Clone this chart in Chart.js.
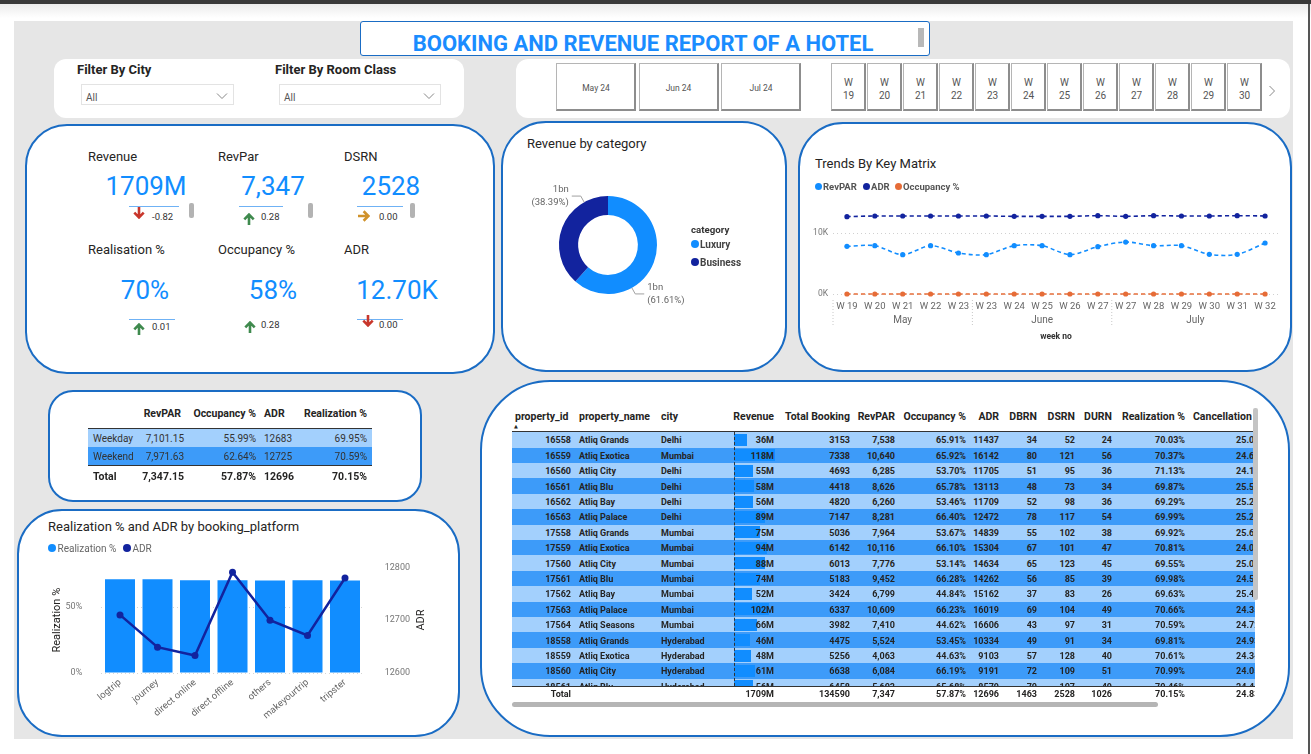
<!DOCTYPE html>
<html>
<head>
<meta charset="utf-8">
<title>Booking and Revenue Report of a Hotel</title>
<script src="https://cdn.jsdelivr.net/npm/chart.js@4.4.1/dist/chart.umd.min.js"></script>
<style>
* { box-sizing: border-box; }
body { margin: 0; width: 1311px; height: 754px; overflow: hidden; position: relative; background: #fff; font-family: Roboto, "DejaVu Sans", sans-serif; color: #252423; }
#topbar { position: absolute; left: 0; top: 0; width: 1311px; height: 4px; background: #3a3a3a; }
#fade { position: absolute; left: 0; top: 4px; width: 1311px; height: 14px; background: linear-gradient(#ececec, #fff); }
#page { position: absolute; left: 14px; top: 21px; width: 1279px; height: 718px; background: #e6e6e6; }
#edge { position: absolute; left: 1308px; top: 4px; width: 2px; height: 750px; background: #555; }
.card { position: absolute; background: #fff; border: 2.5px solid #1a6cc4; }
.panel { position: absolute; background: #fff; border-radius: 12px; }
.t { position: absolute; white-space: nowrap; transform: translateY(-50%); }
.t.r { transform: translate(-100%, -50%); }
.t.c { transform: translate(-50%, -50%); }
.r0 { position: absolute; }
canvas { position: absolute; }
.btn { position: absolute; background: #fff; border: 1px solid #b5b5b5; border-right: 2px solid #8d8d8d; border-bottom: 2px solid #8d8d8d; color: #555; }
.dd { position: absolute; background: #fff; border: 1px solid #e3e3e3; }
</style>
</head>
<body>
<div id="topbar"></div>
<div id="fade"></div>
<div id="page"></div>
<div id="edge"></div>

<!-- judul -->
<div class="card" style="left:360px;top:21px;width:570px;height:35px;border-width:1px;border-radius:3px;"></div>
<div class="t c" style="left:643px;top:43px;font-size:22px;font-weight:700;color:#1a8cff;">BOOKING AND REVENUE REPORT OF A HOTEL</div>
<div class="r0" style="left:918px;top:28px;width:6px;height:19px;background:#b8b8b8;"></div>

<!-- slicer -->
<div class="panel" style="left:54px;top:59px;width:410px;height:59px;"></div>
<div class="panel" style="left:516px;top:59px;width:774px;height:59px;"></div>

<!-- kartu -->
<div class="card" style="left:25px;top:124px;width:470px;height:250px;border-radius:42px;"></div>
<div class="card" style="left:501px;top:121px;width:286px;height:251px;border-radius:45px;"></div>
<div class="card" style="left:798px;top:122px;width:494px;height:250px;border-radius:45px;"></div>
<div class="card" style="left:48px;top:390px;width:374px;height:112px;border-radius:25px;"></div>
<div class="card" style="left:17px;top:509px;width:443px;height:228px;border-radius:45px;"></div>
<div class="card" style="left:480px;top:380px;width:810px;height:357px;border-radius:70px;"></div>

<canvas id="donutChart" width="200" height="150" style="left:508px;top:170px;"></canvas>
<canvas id="trendChart" width="488" height="150" style="left:800px;top:195px;"></canvas>
<canvas id="platformChart" width="430" height="194" style="left:25px;top:541px;"></canvas>

<script>
// ==========================================
// DATA
// ==========================================
const cityOptions = ["All"];
const roomClassOptions = ["All"];
const monthSlicer = ["May 24", "Jun 24", "Jul 24"];
const weekSlicer = ["19", "20", "21", "22", "23", "24", "25", "26", "27", "28", "29", "30"];

const kpiNames = ["Revenue", "RevPar", "DSRN", "Realisation %", "Occupancy %", "ADR"];
const kpiValues = ["1709M", "7,347", "2528", "70%", "58%", "12.70K"];
const kpiDeltas = ["-0.82", "0.28", "0.00", "0.01", "0.28", "0.00"];
const kpiTrend = ["down", "up", "flat", "up", "up", "down"];

const categoryNames = ["Luxury", "Business"];
const categoryRevenue = [1052.9, 656.1]; // juta

const trendWeeks = ["W 19", "W 20", "W 21", "W 22", "W 23", "W 23", "W 24", "W 25", "W 26", "W 27", "W 27", "W 28", "W 29", "W 30", "W 31", "W 32"];
const trendMonths = ["May", "June", "July"];
const trendMonthSize = [5, 5, 6];
const trendRevpar = [7810, 7920, 6450, 7920, 6720, 6450, 7920, 7920, 6450, 7760, 8520, 7920, 7920, 6500, 6500, 8360];
const trendAdr = [12680, 12790, 12790, 12790, 12790, 12790, 12730, 12730, 12730, 12840, 12730, 12840, 12790, 12790, 12840, 12790];
const trendOccupancy = [0.57, 0.58, 0.56, 0.59, 0.57, 0.56, 0.58, 0.59, 0.56, 0.58, 0.60, 0.58, 0.58, 0.56, 0.56, 0.60];

const platforms = ["logtrip", "journey", "direct online", "direct offline", "others", "makeyourtrip", "tripster"];
const platformRealization = [70.97, 70.95, 70.2, 70.2, 70.15, 70.2, 70.1];
const platformAdr = [12710, 12649, 12633, 12791, 12700, 12671, 12780];

const dayTypes = ["Weekday", "Weekend"];
const dayRevpar = [7101.15, 7971.63];
const dayOccupancy = [55.99, 62.64];
const dayAdr = [12683, 12725];
const dayRealization = [69.95, 70.59];
const dayTotal = [7347.15, 57.87, 12696, 70.15];

const propertyIds = [16558, 16559, 16560, 16561, 16562, 16563, 17558, 17559, 17560, 17561, 17562, 17563, 17564, 18558, 18559, 18560, 18561];
const propertyNames = ["Atliq Grands", "Atliq Exotica", "Atliq City", "Atliq Blu", "Atliq Bay", "Atliq Palace", "Atliq Grands", "Atliq Exotica", "Atliq City", "Atliq Blu", "Atliq Bay", "Atliq Palace", "Atliq Seasons", "Atliq Grands", "Atliq Exotica", "Atliq City", "Atliq Blu"];
const propertyCities = ["Delhi", "Mumbai", "Delhi", "Delhi", "Delhi", "Delhi", "Mumbai", "Mumbai", "Mumbai", "Mumbai", "Mumbai", "Mumbai", "Mumbai", "Hyderabad", "Hyderabad", "Hyderabad", "Hyderabad"];
const propertyRevenue = [36, 118, 55, 58, 56, 89, 75, 94, 88, 74, 52, 102, 66, 46, 48, 61, 56];
const propertyBookings = [3153, 7338, 4693, 4418, 4820, 7147, 5036, 6142, 6013, 5183, 3424, 6337, 3982, 4475, 5256, 6638, 6458];
const propertyRevpar = [7538, 10640, 6285, 8626, 6260, 8281, 7964, 10116, 7776, 9452, 6799, 10609, 7410, 5524, 4063, 6084, 5603];
const propertyOccupancy = [65.91, 65.92, 53.70, 65.78, 53.46, 66.40, 53.67, 66.10, 53.14, 66.28, 44.84, 66.23, 44.62, 53.45, 44.63, 66.19, 65.68];
const propertyAdr = [11437, 16142, 11705, 13113, 11709, 12472, 14839, 15304, 14634, 14262, 15162, 16019, 16606, 10334, 9103, 9191, 8579];
const propertyDbrn = [34, 80, 51, 48, 52, 78, 55, 67, 65, 56, 37, 69, 43, 49, 57, 72, 70];
const propertyDsrn = [52, 121, 95, 73, 98, 117, 102, 101, 123, 85, 83, 104, 97, 91, 128, 109, 107];
const propertyDurn = [24, 56, 36, 34, 36, 54, 38, 47, 45, 39, 26, 49, 31, 34, 40, 51, 49];
const propertyRealization = [70.03, 70.37, 71.13, 69.87, 69.29, 69.99, 69.92, 70.81, 69.55, 69.98, 69.63, 70.66, 70.59, 69.81, 70.61, 70.99, 70.46];
const propertyCancellation = [25.02, 24.61, 24.13, 25.54, 25.21, 25.23, 25.62, 24.04, 25.05, 24.52, 25.41, 24.35, 24.72, 24.93, 24.34, 24.05, 24.44];
const propertyTotals = ["Total", "", "", "1709M", "134590", "7,347", "57.87%", "12696", "1463", "2528", "1026", "70.15%", "24.83%"];

// ==========================================
// HELPER DOM
// ==========================================
function txt(s, x, y, align, css) {
    const d = document.createElement('div');
    d.className = 't' + (align === 'right' ? ' r' : align === 'center' ? ' c' : '');
    d.style.cssText = `left:${x}px;top:${y}px;` + (css || '');
    d.textContent = s;
    document.body.appendChild(d);
    return d;
}
function rect(x, y, w, h, css, parent) {
    const d = document.createElement('div');
    d.className = 'r0';
    d.style.cssText = `left:${x}px;top:${y}px;width:${w}px;height:${h}px;` + (css || '');
    (parent || document.body).appendChild(d);
    return d;
}
function arrow(x, y, dir, color) {
    const rot = { up: 0, flat: 90, down: 180 }[dir];
    const d = rect(x - 6, y - 6, 12, 12, `transform:rotate(${rot}deg)`);
    d.innerHTML = `<svg width="12" height="12" viewBox="0 0 12 12"><path d="M1.3 6.4 L6 1.6 L10.7 6.4 M6 2 L6 12" stroke="${color}" stroke-width="2.6" fill="none"/></svg>`;
}
function chevron(x, y, horizontal) {
    const d = rect(x - 6, y - 6, 12, 12, '');
    d.innerHTML = horizontal
        ? `<svg width="12" height="12"><path d="M3.5 1 L8.5 6 L3.5 11" stroke="#888" stroke-width="1" fill="none"/></svg>`
        : `<svg width="12" height="12"><path d="M1 3.5 L6 8.5 L11 3.5" stroke="#888" stroke-width="1" fill="none"/></svg>`;
}

// ==========================================
// SLICER
// ==========================================
txt("Filter By City", 77, 69, 'left', 'font-size:13px;font-weight:700;color:#252423;');
txt("Filter By Room Class", 275, 69, 'left', 'font-size:13px;font-weight:700;color:#252423;');
[[81, 153, cityOptions[0]], [279, 162, roomClassOptions[0]]].forEach(([x, w, s]) => {
    const d = rect(x, 84, w, 21, '');
    d.className = 'dd';
    txt(s, x + 5, 97, 'left', 'font-size:10px;color:#555;');
    chevron(x + w - 12, 93, false);
});
monthSlicer.forEach((m, i) => {
    const d = rect(556 + i * 82.5, 63, 80, 48, '');
    d.className = 'btn';
    txt(m, 596 + i * 82.5, 88, 'center', 'font-size:8.5px;color:#555;');
});
weekSlicer.forEach((w, i) => {
    const x = 831 + i * 36;
    const d = rect(x, 63, 35, 48, '');
    d.className = 'btn';
    txt("W", x + 17.5, 82, 'center', 'font-size:10px;color:#555;');
    txt(w, x + 17.5, 95, 'center', 'font-size:10px;color:#555;');
});
chevron(1272, 88, true);

// ==========================================
// KARTU KPI
// ==========================================
const kpiPos = [
    { lx: 88, ly: 156, vx: 146, vy: 186, line: [129, 179, 206], ax: 139, tx: 152, iy: 216, bar: 189 },
    { lx: 218, ly: 156, vx: 273, vy: 186, line: [239, 283, 206], ax: 249, tx: 261, iy: 216, bar: 308 },
    { lx: 344, ly: 156, vx: 391, vy: 186, line: [357, 403, 206], ax: 367, tx: 379, iy: 216, bar: 410 },
    { lx: 88, ly: 249, vx: 145, vy: 290, line: [129, 175, 319], ax: 139, tx: 152, iy: 326 },
    { lx: 218, ly: 249, vx: 273, vy: 290, line: null, ax: 250, tx: 261, iy: 324 },
    { lx: 344, ly: 249, vx: 397, vy: 290, line: [357, 403, 319], ax: 368, tx: 379, iy: 324 }
];
const trendColor = { up: '#3f8a4e', down: '#c8362b', flat: '#d0922b' };
kpiNames.forEach((name, i) => {
    const p = kpiPos[i];
    txt(name, p.lx, p.ly, 'left', 'font-size:13px;color:#252423;');
    txt(kpiValues[i], p.vx, p.vy, 'center', 'font-size:26px;color:#118dff;');
    if (p.line) rect(p.line[0], p.line[2], p.line[1] - p.line[0], 1, 'background:#6fb2f5;');
    arrow(p.ax, p.iy, kpiTrend[i], trendColor[kpiTrend[i]]);
    txt(kpiDeltas[i], p.tx, p.iy, 'left', 'font-size:9.5px;color:#333;');
    if (p.bar) rect(p.bar, 203, 4.5, 15, 'background:#b3b3b3;border-radius:2px;');
});

// ==========================================
// TEKS KARTU GRAFIK
// ==========================================
txt("Revenue by category", 527, 143, 'left', 'font-size:13px;color:#252423;');
txt("category", 691, 229, 'left', 'font-size:9.7px;font-weight:700;color:#333;');
categoryNames.forEach((c, i) => {
    const y = 244 + i * 18;
    rect(691, y - 4, 8, 8, `border-radius:50%;background:${['#118dff', '#12239e'][i]};`);
    txt(c, 700, y, 'left', 'font-size:10px;font-weight:700;color:#444;');
});

txt("Trends By Key Matrix", 815, 163, 'left', 'font-size:13px;color:#252423;');
[["RevPAR", '#118dff', 818], ["ADR", '#12239e', 866], ["Occupancy %", '#e66c37', 898]].forEach(([s, c, x]) => {
    rect(x - 3.5, 182.5, 7, 7, `border-radius:50%;background:${c};`);
    txt(s, x + 5, 186, 'left', 'font-size:9.5px;font-weight:700;color:#555;');
});

txt("Realization % and ADR by booking_platform", 48, 526, 'left', 'font-size:13px;color:#252423;');
[["Realization %", '#118dff', 52], ["ADR", '#12239e', 127]].forEach(([s, c, x]) => {
    rect(x - 4, 544, 8, 8, `border-radius:50%;background:${c};`);
    txt(s, x + 5.5, 548, 'left', 'font-size:10px;color:#666;');
});
// judul sumbu kanan dibaca dari bawah ke atas
txt("ADR", 420, 620, 'center', 'font-size:11px;color:#252423;transform:translate(-50%,-50%) rotate(-90deg);');

// ==========================================
// TABEL WEEKDAY / WEEKEND
// ==========================================
const fmt2 = n => n.toLocaleString('en-US', { minimumFractionDigits: 2, maximumFractionDigits: 2 });
const hdr = 'font-size:10.5px;font-weight:700;color:#252423;';
txt("RevPAR", 181, 413, 'right', hdr);
txt("Occupancy %", 256, 413, 'right', hdr);
txt("ADR", 264, 413, 'left', hdr);
txt("Realization %", 367, 413, 'right', hdr);
rect(88, 427.5, 284, 1.5, 'background:#333;');
dayTypes.forEach((d, i) => {
    const top = 429 + i * 18;
    rect(88, top, 284, 18, `background:${i === 0 ? '#a3d0fd' : '#3d9bf9'};`);
    const y = top + 9;
    const st = 'font-size:10px;color:#333;';
    txt(d, 93, y, 'left', st);
    txt(fmt2(dayRevpar[i]), 184, y, 'right', st);
    txt(dayOccupancy[i].toFixed(2) + '%', 256, y, 'right', st);
    txt(String(dayAdr[i]), 264, y, 'left', st);
    txt(dayRealization[i].toFixed(2) + '%', 367, y, 'right', st);
});
rect(88, 464.5, 284, 1.5, 'background:#333;');
txt("Total", 93, 476, 'left', hdr);
txt(fmt2(dayTotal[0]), 184, 476, 'right', hdr);
txt(dayTotal[1].toFixed(2) + '%', 256, 476, 'right', hdr);
txt(String(dayTotal[2]), 264, 476, 'left', hdr);
txt(dayTotal[3].toFixed(2) + '%', 367, 476, 'right', hdr);

// ==========================================
// TABEL PROPERTI
// ==========================================
const tableHeads = ["property_id", "property_name", "city", "Revenue", "Total Booking", "RevPAR", "Occupancy %", "ADR", "DBRN", "DSRN", "DURN", "Realization %", "Cancellation %"];
const headX = [515, 579, 661, 774, 850, 895, 966, 999, 1037, 1075, 1112, 1185, 1193];
const headAlign = ['left', 'left', 'left', 'right', 'right', 'right', 'right', 'right', 'right', 'right', 'right', 'right', 'left'];
const colX = [571, 579, 661, 774, 850, 895, 966, 999, 1037, 1075, 1112, 1185, 1266];
const colAlign = ['right', 'left', 'left', 'right', 'right', 'right', 'right', 'right', 'right', 'right', 'right', 'right', 'right'];

const clipX = 512, clipY = 405;
const tbl = rect(clipX, clipY, 743, 300, 'overflow:hidden;');
function cell(parent, s, x, y, align, css, ox, oy) {
    const d = document.createElement('div');
    d.className = 't' + (align === 'right' ? ' r' : '');
    d.style.cssText = `left:${x - ox}px;top:${y - oy}px;` + css;
    d.textContent = s;
    parent.appendChild(d);
}
const thStyle = 'font-size:10.5px;font-weight:700;color:#252423;';
tableHeads.forEach((h, i) => cell(tbl, h, headX[i], 416, headAlign[i], thStyle, clipX, clipY));
cell(tbl, "▲", 514, 425.5, 'left', 'font-size:5px;color:#252423;', clipX, clipY);
rect(0, 430.5 - clipY, 743, 1.5, 'background:#333;', tbl);

const bodyY = 432.3, rowH = 15.4;
const body = rect(0, bodyY - clipY, 743, 686 - bodyY, 'overflow:hidden;', tbl);
const maxRev = Math.max(...propertyRevenue);
const tdStyle = 'font-size:9px;font-weight:700;color:#252423;';
propertyIds.forEach((id, i) => {
    const top = i * rowH;
    rect(0, top, 743, rowH, `background:${i % 2 === 0 ? '#a3d0fd' : '#3d9bf9'};`, body);
    rect(734 - clipX, top + 1.7, propertyRevenue[i] / maxRev * 41, 12, 'background:#118dff;', body);
    const vals = [
        String(id), propertyNames[i], propertyCities[i], propertyRevenue[i] + 'M',
        String(propertyBookings[i]), propertyRevpar[i].toLocaleString('en-US'),
        propertyOccupancy[i].toFixed(2) + '%', String(propertyAdr[i]),
        String(propertyDbrn[i]), String(propertyDsrn[i]), String(propertyDurn[i]),
        propertyRealization[i].toFixed(2) + '%', propertyCancellation[i].toFixed(2) + '%'
    ];
    vals.forEach((v, c) => cell(body, v, colX[c], top + rowH / 2 + 0.5, colAlign[c], tdStyle, clipX, 0));
});
rect(734 - clipX, 0, 0, 686 - bodyY, 'border-left:1px dashed #333;', body);
rect(0, 685.5 - clipY, 743, 1.5, 'background:#333;', tbl);
propertyTotals.forEach((v, c) => { if (v) cell(tbl, v, colX[c], 694, colAlign[c], tdStyle, clipX, clipY); });
rect(1253, 408, 5, 192, 'background:#c4c4c4;border-radius:2px;');
rect(512, 702, 646, 5, 'background:#b5b5b5;border-radius:3px;');

// ==========================================
// CHART.JS
// ==========================================
Chart.defaults.font.family = 'Roboto';
Chart.defaults.animation = false;

// Label donat + garis penunjuk
const donutLabels = {
    id: 'donutLabels',
    afterDatasetsDraw(chart) {
        const ctx = chart.ctx;
        const total = categoryRevenue.reduce((a, b) => a + b, 0);
        chart.getDatasetMeta(0).data.forEach((arc, i) => {
            const ang = (arc.startAngle + arc.endAngle) / 2 + Math.PI * 40 / 180;
            const r = arc.outerRadius;
            const px = arc.x + Math.cos(ang) * r, py = arc.y + Math.sin(ang) * r;
            const qx = arc.x + Math.cos(ang) * (r + 7), qy = arc.y + Math.sin(ang) * (r + 7);
            const side = Math.cos(ang) < 0 ? -1 : 1;
            const ex = qx + side * 9;
            ctx.save();
            ctx.strokeStyle = '#a0a0a0';
            ctx.lineWidth = 1;
            ctx.beginPath(); ctx.moveTo(px, py); ctx.lineTo(qx, qy); ctx.lineTo(ex, qy); ctx.stroke();
            ctx.fillStyle = '#666';
            ctx.font = '9.5px Roboto';
            ctx.textAlign = side < 0 ? 'right' : 'left';
            ctx.textBaseline = 'middle';
            const tx = ex + side * 3;
            ctx.fillText(Math.round(categoryRevenue[i] / 1000) + 'bn', tx, qy - 6);
            ctx.fillText('(' + (categoryRevenue[i] / total * 100).toFixed(2) + '%)', tx, qy + 7);
            ctx.restore();
        });
    }
};

new Chart(document.getElementById('donutChart'), {
    type: 'doughnut',
    data: {
        labels: categoryNames,
        datasets: [{ data: categoryRevenue, backgroundColor: ['#118dff', '#12239e'], borderWidth: 0 }]
    },
    options: {
        responsive: false,
        cutout: '61%',
        layout: { padding: { left: 51, right: 51, top: 26, bottom: 26 } },
        plugins: { legend: { display: false }, tooltip: { enabled: false } }
    },
    plugins: [donutLabels]
});

// Bulan di bawah sumbu minggu
const monthAxis = {
    id: 'monthAxis',
    afterDraw(chart) {
        const { ctx, chartArea, scales: { x } } = chart;
        const step = x.getPixelForValue(1) - x.getPixelForValue(0);
        let start = 0;
        ctx.save();
        ctx.strokeStyle = '#c8c8c8';
        ctx.lineWidth = 1;
        ctx.setLineDash([1, 2]);
        ctx.fillStyle = '#666';
        ctx.font = '10px Roboto';
        ctx.textAlign = 'center';
        ctx.textBaseline = 'middle';
        trendMonths.forEach((m, i) => {
            const end = start + trendMonthSize[i] - 1;
            const left = x.getPixelForValue(start) - step / 2;
            ctx.beginPath(); ctx.moveTo(left, chartArea.bottom + 6); ctx.lineTo(left, chartArea.bottom + 33); ctx.stroke();
            ctx.fillText(m, (x.getPixelForValue(start) + x.getPixelForValue(end)) / 2, chartArea.bottom + 26);
            start = end + 1;
        });
        ctx.restore();
    }
};

const trendLine = (label, data, color) => ({
    label, data, borderColor: color, backgroundColor: color,
    borderDash: [4, 3], borderWidth: 1.6, pointRadius: 2.6, pointBorderWidth: 0, tension: 0.3
});

new Chart(document.getElementById('trendChart'), {
    type: 'line',
    data: {
        labels: trendWeeks,
        datasets: [
            trendLine('RevPAR', trendRevpar, '#118dff'),
            trendLine('ADR', trendAdr, '#12239e'),
            trendLine('Occupancy %', trendOccupancy, '#e66c37')
        ]
    },
    options: {
        responsive: false,
        clip: false,
        layout: { padding: { top: 16.65, right: 9, left: 0, bottom: 0 } },
        plugins: { legend: { display: false }, tooltip: { enabled: false } },
        scales: {
            x: {
                offset: true,
                grid: { display: false, drawTicks: false },
                border: { display: false },
                ticks: { color: '#666', font: { size: 9.5 }, padding: 7, maxRotation: 0, autoSkip: false },
                title: { display: true, text: 'week no', color: '#333', font: { size: 8.5, weight: 'bold' }, padding: { top: 0, bottom: 3 } },
                afterFit(s) { s.height = 51; }
            },
            y: {
                min: 0, max: 13500,
                grid: { color: '#d0d0d0', drawTicks: false },
                border: { display: false, dash: [1, 3] },
                ticks: { color: '#777', font: { size: 8.5 }, padding: 5, callback: v => (v / 1000) + 'K' },
                afterBuildTicks(s) { s.ticks = [{ value: 0 }, { value: 10000 }]; },
                afterFit(s) { s.width = 33; }
            }
        }
    },
    plugins: [monthAxis]
});

new Chart(document.getElementById('platformChart'), {
    type: 'bar',
    data: {
        labels: platforms,
        datasets: [
            { type: 'line', label: 'ADR', data: platformAdr, yAxisID: 'y1', borderColor: '#12239e', backgroundColor: '#12239e', borderWidth: 2.5, pointRadius: 3.5, pointBorderWidth: 0, order: 0 },
            { type: 'bar', label: 'Realization %', data: platformRealization, yAxisID: 'y', backgroundColor: '#118dff', categoryPercentage: 0.8, barPercentage: 1, order: 1 }
        ]
    },
    options: {
        responsive: false,
        clip: false,
        layout: { padding: { left: 22, right: 27, top: 0, bottom: 0 } },
        plugins: { legend: { display: false }, tooltip: { enabled: false } },
        scales: {
            x: {
                grid: { display: false, drawTicks: false },
                border: { display: false },
                ticks: { color: '#666', font: { size: 9.5 }, minRotation: 40, maxRotation: 40, padding: 4, autoSkip: false },
                afterFit(s) { s.height = 62; }
            },
            y: {
                position: 'left', min: 0, max: 80,
                grid: { color: '#d5d5d5', drawTicks: false },
                border: { display: false, dash: [1, 3] },
                ticks: { color: '#777', font: { size: 9 }, padding: 19, callback: v => v + '%' },
                afterBuildTicks(s) { s.ticks = [{ value: 0 }, { value: 50 }]; },
                title: { display: true, text: 'Realization %', color: '#252423', font: { size: 11 } },
                afterFit(s) { s.width = 54.25; }
            },
            y1: {
                position: 'right', min: 12600, max: 12800,
                grid: { display: false, drawTicks: false },
                border: { display: false },
                ticks: { stepSize: 100, color: '#777', font: { size: 9 }, padding: 21, callback: v => String(v) },
                afterFit(s) { s.width = 64.25; }
            }
        }
    }
});
</script>
</body>
</html>
